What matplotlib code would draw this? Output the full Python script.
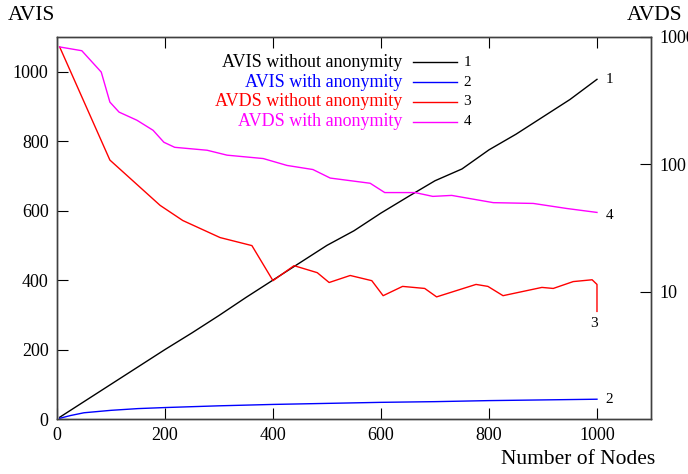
import matplotlib
matplotlib.use('Agg')
import matplotlib.pyplot as plt
import numpy as np

matplotlib.rcParams['font.family'] = 'Liberation Serif'
matplotlib.rcParams['font.size'] = 13

# AVIS without anonymity (left axis)
avis_x = [5, 50, 100, 150, 200, 250, 300, 350, 400, 450, 500, 550, 600, 650, 700, 750, 800, 850, 900, 950, 1000]
avis_y = [5, 50, 100, 150, 200, 248, 298, 350, 400, 450, 500, 542, 593, 640, 686, 720, 775, 820, 870, 920, 978]

# AVIS with anonymity (left axis)
avis_anon_x = [5, 25, 50, 100, 150, 200, 300, 400, 500, 600, 700, 800, 900, 1000]
avis_anon_y = [2, 10, 18, 25, 30, 33, 38, 42, 45, 48, 50, 53, 55, 57]

# AVDS without anonymity (right axis, log)
avds_x = [5, 98, 191, 233, 302, 361, 400, 439, 482, 504, 543, 583, 604, 640, 681, 703, 776, 798,
          826, 898, 919, 956, 991, 1000, 1000]
avds_y = [835, 108, 47.6, 36.2, 26.6, 23.0, 12.2, 16.0, 14.1, 11.8, 13.4, 12.2, 9.3, 11.0, 10.6,
          9.1, 11.4, 11.0, 9.3, 10.8, 10.6, 12.0, 12.4, 11.4, 7.0]

# AVDS with anonymity (right axis, log)
avds_anon_x = [5, 46, 82, 98, 115, 148, 178, 198, 218, 278, 315, 382, 426, 474, 506, 580, 607,
               663, 696, 731, 808, 882, 944, 1000]
avds_anon_y = [835, 780, 530, 308, 257, 222, 185, 149, 136, 129, 118, 111, 98, 91, 78, 71, 60,
               60, 56, 57, 50, 49.3, 45, 41.9]

series_names = ['AVIS without anonymity', 'AVIS with anonymity',
                'AVDS without anonymity', 'AVDS with anonymity']
series_colors = ['black', '#0000ff', '#ff0000', '#ff00ff']

fig = plt.figure(figsize=(6.88, 4.74), dpi=100)
ax = fig.add_axes([0.0828, 0.116, 0.8634, 0.806])
ax2 = ax.twinx()

ax.plot(avis_x, avis_y, color=series_colors[0], linewidth=1)
ax.plot(avis_anon_x, avis_anon_y, color=series_colors[1], linewidth=1)
ax2.plot(avds_x, avds_y, color=series_colors[2], linewidth=1)
ax2.plot(avds_anon_x, avds_anon_y, color=series_colors[3], linewidth=1)

ax.set_xlim(0, 1100)
ax.set_ylim(0, 1100)
ax.set_xticks(range(0, 1001, 200))
ax.set_yticks(range(0, 1001, 200))
ax2.set_yscale('log')
ax2.set_ylim(1, 1000)
ax2.set_yticks([10, 100, 1000])
ax2.set_yticklabels(['10', '100', '1000'])
ax2.yaxis.set_minor_locator(matplotlib.ticker.NullLocator())

ax.tick_params(axis='x', direction='in', length=8, top=True, bottom=True, pad=6)
ax.tick_params(axis='y', direction='in', length=8, left=True, right=False, pad=6)
ax2.tick_params(axis='y', direction='in', length=8, pad=6)
for a in [ax, ax2]:
  for pos in ['top', 'bottom', 'right', 'left']:
    a.spines[pos].set_color('#404040')
    a.spines[pos].set_linewidth(1)

# end-of-line numbers
ax.annotate('1', (avis_x[-1], avis_y[-1]), xytext=(6, 0), textcoords='offset points',
            va='center', ha='left', fontsize=11)
ax.annotate('2', (avis_anon_x[-1], avis_anon_y[-1]), xytext=(6, 0), textcoords='offset points',
            va='center', ha='left', fontsize=11)
ax2.annotate('3', (avds_x[-1], avds_y[-1]), xytext=(-2, -9), textcoords='offset points',
             va='center', ha='center', fontsize=11)
ax2.annotate('4', (avds_anon_x[-1], avds_anon_y[-1]), xytext=(6, -2), textcoords='offset points',
             va='center', ha='left', fontsize=11)

# legend key
for i, (name, col) in enumerate(zip(series_names, series_colors)):
  yy = 0.934 - i * 0.052
  ax.text(0.582, yy, name, color=col, ha='right', va='center', transform=ax.transAxes, fontsize=13)
  ax.plot([0.599, 0.673], [yy, yy], color=col, linewidth=1, transform=ax.transAxes)
  ax.text(0.684, yy, str(i + 1), ha='left', va='center', transform=ax.transAxes, fontsize=11)

fig.text(0.012, 0.968, 'AVIS', fontsize=15.5, ha='left', va='center')
fig.text(0.992, 0.968, 'AVDS', fontsize=15.5, ha='right', va='center')
fig.text(0.952, 0.03, 'Number of Nodes', fontsize=15.5, ha='right', va='center')

plt.savefig('out.png', dpi=100)
